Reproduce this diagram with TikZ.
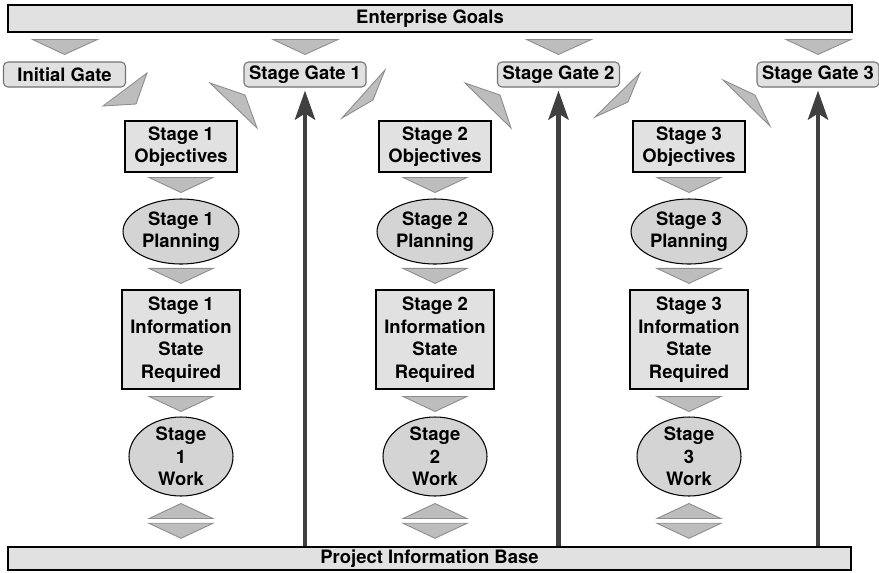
\documentclass[tikz,border=0pt]{standalone}
\usepackage{fontspec}
\setmainfont{TeX Gyre Heros}
\usetikzlibrary{arrows.meta,shapes.geometric}
\definecolor{boxgray}{HTML}{E1E1E1}
\definecolor{ovalgray}{HTML}{D4D4D4}
\definecolor{chevgray}{HTML}{BDBDBD}
\newcommand{\labelfont}{\fontsize{10.5}{12.8}\selectfont\bfseries}
\tikzset{
  bar/.style={draw=black, fill=boxgray, line width=0.8pt, inner sep=0pt, font=\labelfont},
  gatebox/.style={draw=black!55, fill=boxgray, rounded corners=2.5pt, line width=0.6pt,
    minimum width=2.44cm, minimum height=0.5cm, inner sep=0pt, font=\labelfont},
  stagebox/.style={rectangle, draw=black, fill=boxgray, line width=0.7pt, inner sep=0pt,
    align=center, font=\labelfont},
  stageoval/.style={ellipse, draw=black, fill=ovalgray, line width=0.6pt, inner xsep=0pt,
    inner ysep=-2pt, align=center, font=\labelfont},
  chev/.style={fill=chevgray, draw=black!45, line width=0.5pt, line join=miter},
  feedup/.style={line width=2.8pt, draw=black!75,
    -{Stealth[length=0.58cm, width=0.4cm, inset=0.12cm]}},
}

\begin{document}
\begin{tikzpicture}[x=0.02cm, y=-0.02cm]
\useasboundingbox (0,0) rectangle (879,572);
% bars
\node[bar, minimum width=16.88cm, minimum height=0.54cm] (goals) at (430,18.5) {Enterprise Goals};
\node[bar, minimum width=16.86cm, minimum height=0.46cm] (pib) at (429.5,558.5) {Project Information Base};
% gates
\node[gatebox] (gate0) at (64.5,74.5) {Initial Gate};
\node[gatebox] (gate1) at (305,74.5) {Stage Gate 1};
\node[gatebox] (gate2) at (558.5,74.5) {Stage Gate 2};
\node[gatebox] (gate3) at (818,74.5) {Stage Gate 3};
% stage 1
\node[stagebox, minimum width=2.24cm, minimum height=1.02cm] (obj1) at (181,146.5) {Stage 1\\Objectives};
\node[stageoval, minimum width=2.32cm, minimum height=1.3cm] (plan1) at (181,231.5) {Stage 1\\Planning};
\node[stagebox, minimum width=2.36cm, minimum height=1.98cm] (info1) at (181,339.5) {Stage 1\\Information\\State\\Required};
\node[stageoval, minimum width=2.08cm, minimum height=1.58cm] (work1) at (181,456.5) {Stage\\1\\Work};
% stage 2
\node[stagebox, minimum width=2.24cm, minimum height=1.02cm] (obj2) at (435,146.5) {Stage 2\\Objectives};
\node[stageoval, minimum width=2.32cm, minimum height=1.3cm] (plan2) at (435,231.5) {Stage 2\\Planning};
\node[stagebox, minimum width=2.36cm, minimum height=1.98cm] (info2) at (435,339.5) {Stage 2\\Information\\State\\Required};
\node[stageoval, minimum width=2.08cm, minimum height=1.58cm] (work2) at (435,456.5) {Stage\\2\\Work};
% stage 3
\node[stagebox, minimum width=2.24cm, minimum height=1.02cm] (obj3) at (689,146.5) {Stage 3\\Objectives};
\node[stageoval, minimum width=2.32cm, minimum height=1.3cm] (plan3) at (689,231.5) {Stage 3\\Planning};
\node[stagebox, minimum width=2.36cm, minimum height=1.98cm] (info3) at (689,339.5) {Stage 3\\Information\\State\\Required};
\node[stageoval, minimum width=2.08cm, minimum height=1.58cm] (work3) at (689,456.5) {Stage\\3\\Work};
% goals to gates
\draw[chev] ([yshift=0.14cm]gate0.north) -- ++(-32,-15) -- ++(65,0) -- cycle;
\draw[chev] ([yshift=0.14cm]gate1.north) -- ++(-32,-15) -- ++(65,0) -- cycle;
\draw[chev] ([yshift=0.14cm]gate2.north) -- ++(-32,-15) -- ++(65,0) -- cycle;
\draw[chev] ([yshift=0.14cm]gate3.north) -- ++(-32,-15) -- ++(65,0) -- cycle;
% gates to stages
\draw[chev] (147,73) -- (136,104) -- (103,106) -- cycle;
\draw[chev] (385,70) -- (373,100) -- (342,118) -- cycle;
\draw[chev] (640,73) -- (628,102) -- (595,117) -- cycle;
% stages to gates
\draw[chev] (210,83) -- (245,95) -- (257,128) -- cycle;
\draw[chev] (465,83) -- (500,95) -- (511,128) -- cycle;
\draw[chev] (723,80) -- (755,95) -- (770,126) -- cycle;
% stage 1 flow
\draw[chev] ([yshift=0.12cm]plan1.north) -- ++(-32,-15) -- ++(64,0) -- cycle;
\draw[chev] ([yshift=0.12cm]info1.north) -- ++(-32,-15) -- ++(64,0) -- cycle;
\draw[chev] ([yshift=0.1cm]work1.north) -- ++(-32,-15) -- ++(64,0) -- cycle;
\draw[chev] ([yshift=-0.14cm]work1.south) -- ++(-32,15) -- ++(64,0) -- cycle;
\draw[chev] ([yshift=0.16cm]pib.north -| work1) -- ++(-32,-15) -- ++(64,0) -- cycle;
% stage 2 flow
\draw[chev] ([yshift=0.12cm]plan2.north) -- ++(-32,-15) -- ++(64,0) -- cycle;
\draw[chev] ([yshift=0.12cm]info2.north) -- ++(-32,-15) -- ++(64,0) -- cycle;
\draw[chev] ([yshift=0.1cm]work2.north) -- ++(-32,-15) -- ++(64,0) -- cycle;
\draw[chev] ([yshift=-0.14cm]work2.south) -- ++(-32,15) -- ++(64,0) -- cycle;
\draw[chev] ([yshift=0.16cm]pib.north -| work2) -- ++(-32,-15) -- ++(64,0) -- cycle;
% stage 3 flow
\draw[chev] ([yshift=0.12cm]plan3.north) -- ++(-32,-15) -- ++(64,0) -- cycle;
\draw[chev] ([yshift=0.12cm]info3.north) -- ++(-32,-15) -- ++(64,0) -- cycle;
\draw[chev] ([yshift=0.1cm]work3.north) -- ++(-32,-15) -- ++(64,0) -- cycle;
\draw[chev] ([yshift=-0.14cm]work3.south) -- ++(-32,15) -- ++(64,0) -- cycle;
\draw[chev] ([yshift=0.16cm]pib.north -| work3) -- ++(-32,-15) -- ++(64,0) -- cycle;
% information base to gates
\draw[feedup] (pib.north -| gate1.south) -- ([yshift=-0.06cm]gate1.south);
\draw[feedup] (pib.north -| gate2.south) -- ([yshift=-0.06cm]gate2.south);
\draw[feedup] (pib.north -| gate3.south) -- ([yshift=-0.06cm]gate3.south);
\end{tikzpicture}
\end{document}
